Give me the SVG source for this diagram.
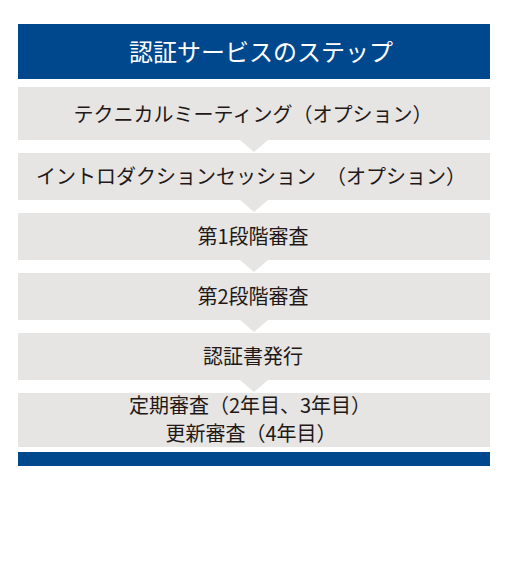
<svg xmlns="http://www.w3.org/2000/svg" width="510" height="567" viewBox="0 0 510 567">
  <style>
    .hdr { fill: #00488d; }
    .box { fill: #e6e5e4; }
    .arrow { fill: #e6e5e4; }
    .t { font-family: "Noto Sans CJK JP", "Noto Sans", sans-serif; font-size: 20px; font-weight: 400; fill: #231815; text-anchor: middle; }
    .title { font-family: "Noto Sans CJK JP", "Noto Sans", sans-serif; font-size: 24px; font-weight: 400; fill: #ffffff; text-anchor: middle; }
  </style>
  <rect width="510" height="567" fill="#ffffff"/>
  <g id="header">
    <rect class="hdr" x="18" y="24" width="472" height="55"/>
    <text class="title" x="261" y="61">認証サービスのステップ</text>
  </g>
  <g id="connectors">
    <polygon class="arrow" points="240,140 268,140 254,152"/>
    <polygon class="arrow" points="240,200 268,200 254,212"/>
    <polygon class="arrow" points="240,260 268,260 254,272"/>
    <polygon class="arrow" points="240,320 268,320 254,332"/>
    <polygon class="arrow" points="240,380 268,380 254,392"/>
  </g>
  <g id="step1">
    <rect class="box" x="18" y="87" width="472" height="53"/>
    <text class="t" x="253" y="122">テクニカルミーティング（オプション）</text>
  </g>
  <g id="step2">
    <rect class="box" x="18" y="153" width="472" height="47"/>
    <text class="t" x="251" y="184">イントロダクションセッション　（オプション）</text>
  </g>
  <g id="step3">
    <rect class="box" x="18" y="213" width="472" height="47"/>
    <text class="t" x="253" y="244">第1段階審査</text>
  </g>
  <g id="step4">
    <rect class="box" x="18" y="273" width="472" height="47"/>
    <text class="t" x="253" y="304">第2段階審査</text>
  </g>
  <g id="step5">
    <rect class="box" x="18" y="333" width="472" height="47"/>
    <text class="t" x="253" y="364">認証書発行</text>
  </g>
  <g id="step6">
    <rect class="box" x="18" y="393" width="472" height="54"/>
    <text class="t" x="250" y="413">定期審査（2年目、3年目）</text>
    <text class="t" x="251" y="441">更新審査（4年目）</text>
  </g>
  <g id="footer">
    <rect class="hdr" x="18" y="452" width="472" height="14"/>
  </g>
</svg>
